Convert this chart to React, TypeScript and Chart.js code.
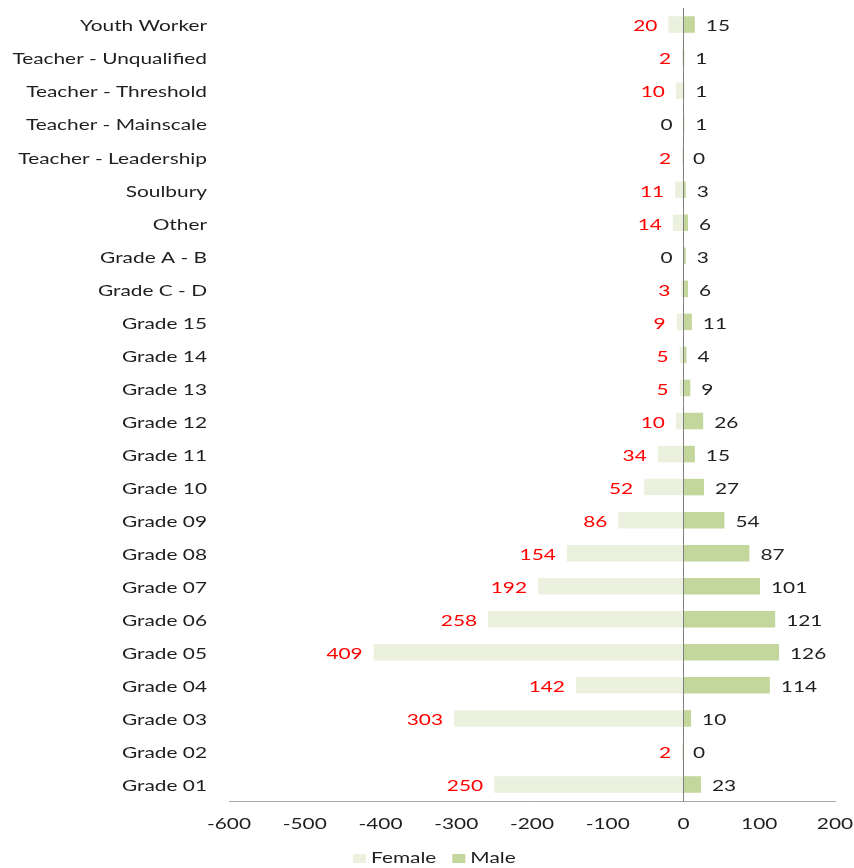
import React, { useEffect, useRef } from "react";
import { Chart, registerables } from "chart.js";

Chart.register(...registerables);

const categories = [
  "Youth Worker",
  "Teacher - Unqualified",
  "Teacher - Threshold",
  "Teacher - Mainscale",
  "Teacher - Leadership",
  "Soulbury",
  "Other",
  "Grade A - B",
  "Grade C - D",
  "Grade 15",
  "Grade 14",
  "Grade 13",
  "Grade 12",
  "Grade 11",
  "Grade 10",
  "Grade 09",
  "Grade 08",
  "Grade 07",
  "Grade 06",
  "Grade 05",
  "Grade 04",
  "Grade 03",
  "Grade 02",
  "Grade 01",
];

const femaleValues = [20, 2, 10, 0, 2, 11, 14, 0, 3, 9, 5, 5, 10, 34, 52, 86, 154, 192, 258, 409, 142, 303, 2, 250];
const maleValues = [15, 1, 1, 1, 0, 3, 6, 3, 6, 11, 4, 9, 26, 15, 27, 54, 87, 101, 121, 126, 114, 10, 0, 23];

const xTicks = [-600, -500, -400, -300, -200, -100, 0, 100, 200];

const FONT = "Lato, 'DejaVu Sans', sans-serif";
const FEMALE_COLOR = "#ebf1de";
const MALE_COLOR = "#c3d69b";
const TEXT_COLOR = "#1f1f1f";
const SX = 1.39;
const TEXT_DY = 2;

function stretchText(ctx: any, text: string, x: number, y: number, align: string, color: string) {
  ctx.save();
  ctx.translate(x, y + TEXT_DY);
  ctx.scale(SX, 1);
  ctx.textAlign = align;
  ctx.textBaseline = "middle";
  ctx.fillStyle = color;
  ctx.fillText(text, 0, 0);
  ctx.restore();
}

const labelPlugin = {
  id: "valueLabels",
  afterDatasetsDraw(chart: any) {
    const ctx = chart.ctx;
    ctx.save();
    ctx.font = `15px ${FONT}`;
    chart.data.datasets.forEach((ds: any, di: number) => {
      const meta = chart.getDatasetMeta(di);
      meta.data.forEach((bar: any, i: number) => {
        const raw = ds.data[i];
        if (di === 0) {
          const end = Math.min(bar.x, bar.base);
          stretchText(ctx, String(Math.abs(raw)), end - 11, bar.y, "right", raw === 0 ? TEXT_COLOR : "#ff0000");
        } else {
          const end = Math.max(bar.x, bar.base);
          stretchText(ctx, String(raw), end + 11, bar.y, "left", TEXT_COLOR);
        }
      });
    });
    ctx.restore();
  },
  afterDraw(chart: any) {
    const ctx = chart.ctx;
    ctx.save();
    ctx.font = `15px ${FONT}`;
    const xs = chart.scales.x;
    const ys = chart.scales.y;
    xTicks.forEach((v) => {
      stretchText(ctx, String(v), xs.getPixelForValue(v), xs.top + 21, "center", TEXT_COLOR);
    });
    categories.forEach((c, i) => {
      stretchText(ctx, c, ys.right - 22, ys.getPixelForTick(i), "right", TEXT_COLOR);
    });
    const y = 856;
    let x = 353;
    chart.data.datasets.forEach((ds: any) => {
      ctx.fillStyle = ds.backgroundColor;
      ctx.fillRect(x, y - 2, 13, 9);
      stretchText(ctx, ds.label, x + 18, y, "left", TEXT_COLOR);
      x += 18 + ctx.measureText(ds.label).width * SX + 16;
    });
    ctx.restore();
  },
};

export default function App() {
  const ref = useRef<HTMLCanvasElement>(null);

  useEffect(() => {
    document.body.style.margin = "0";
    const canvas = ref.current;
    if (!canvas) return;
    const chart = new Chart(canvas, {
      type: "bar",
      data: {
        labels: categories,
        datasets: [
          {
            label: "Female",
            data: femaleValues.map((v) => -v),
            backgroundColor: FEMALE_COLOR,
            categoryPercentage: 1,
            barPercentage: 0.5,
          },
          {
            label: "Male",
            data: maleValues,
            backgroundColor: MALE_COLOR,
            categoryPercentage: 1,
            barPercentage: 0.5,
          },
        ],
      },
      options: {
        indexAxis: "y",
        animation: false,
        responsive: false,
        maintainAspectRatio: false,
        layout: { padding: { top: 8, right: 19, bottom: 37, left: 0 } },
        plugins: {
          legend: { display: false },
          tooltip: { enabled: false },
        },
        scales: {
          x: {
            stacked: true,
            min: -600,
            max: 200,
            afterBuildTicks(scale: any) {
              scale.ticks = xTicks.map((v) => ({ value: v }));
            },
            afterFit(scale: any) {
              scale.height = 30;
              scale.paddingLeft = 0;
              scale.paddingRight = 0;
              scale.paddingTop = 0;
              scale.paddingBottom = 0;
            },
            ticks: { display: false },
            grid: {
              drawTicks: false,
              color: (c: any) => (c.tick && c.tick.value === 0 ? "#808080" : "rgba(0,0,0,0)"),
            },
            border: { display: true, color: "#a6a6a6" },
          },
          y: {
            stacked: true,
            afterFit(scale: any) {
              scale.width = 229;
              scale.paddingLeft = 0;
              scale.paddingRight = 0;
              scale.paddingTop = 0;
              scale.paddingBottom = 0;
            },
            ticks: { display: false },
            grid: { display: false },
            border: { display: false },
          },
        },
      },
      plugins: [labelPlugin],
    });
    return () => chart.destroy();
  }, []);

  return <canvas ref={ref} width={854} height={868} style={{ display: "block" }} />;
}
